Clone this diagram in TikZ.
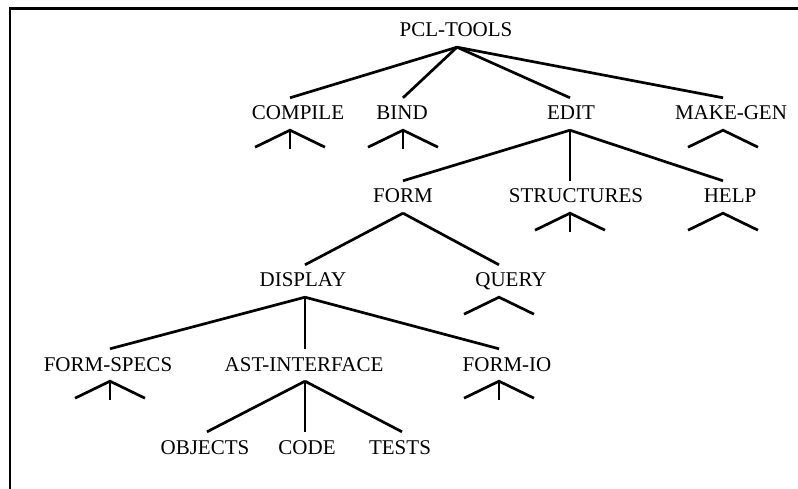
\documentclass[tikz,border=0pt]{standalone}
\usepackage{fontspec}
\setmainfont{Liberation Serif}
% collapsed subtree: a wedge below the node, optionally with a short stem
\newcommand\wedgebelow[2]{%
  \draw[edge] ([xshift=#2]#1.south) ++(-35,17) -- ([xshift=#2]#1.south) -- ++(35,17);}
\newcommand\wedgestem[2]{%
  \wedgebelow{#1}{#2}%
  \draw[edge] ([xshift=#2]#1.south) -- ++(0,19);}
\begin{document}
\begin{tikzpicture}[x=1pt,y=-1pt,
  lbl/.style={anchor=base, font=\fontsize{21}{25}\selectfont,
    text height=14pt, text depth=2pt, inner xsep=0pt, inner ysep=8pt},
  edge/.style={line width=2.7pt, line join=miter},
  frame/.style={line width=2.7pt}]
\useasboundingbox (0,0) rectangle (798,489);

% open frame: left and top rules
\draw[frame] (10,489) -- (10,8.5) -- (798,8.5);

% labels
\node[lbl] (pcl)     at (456,37)  {PCL-TOOLS};
\node[lbl] (compile) at (298,120) {COMPILE};
\node[lbl] (bind)    at (402,120) {BIND};
\node[lbl] (edit)    at (571,120) {EDIT};
\node[lbl] (makegen) at (731,120) {MAKE-GEN};
\node[lbl] (form)    at (403,203) {FORM};
\node[lbl] (struct)  at (576,203) {STRUCTURES};
\node[lbl] (help)    at (730,203) {HELP};
\node[lbl] (display) at (303,287) {DISPLAY};
\node[lbl] (query)   at (511,287) {QUERY};
\node[lbl] (fspecs)  at (108,371) {FORM-SPECS};
\node[lbl] (ast)     at (304,371) {AST-INTERFACE};
\node[lbl] (fio)     at (507,371) {FORM-IO};
\node[lbl] (objects) at (205,454) {OBJECTS};
\node[lbl] (code)    at (307,454) {CODE};
\node[lbl] (tests)   at (400,454) {TESTS};

% tree edges
\draw[edge] ([xshift=1pt]pcl.south) -- ([xshift=-8pt]compile.north);
\draw[edge] ([xshift=1pt]pcl.south) -- ([xshift=1pt]bind.north);
\draw[edge] ([xshift=1pt]pcl.south) -- ([xshift=-1pt]edit.north);
\draw[edge] ([xshift=1pt]pcl.south) -- ([xshift=-8pt]makegen.north);

\draw[edge] ([xshift=-1pt]edit.south) -- (form.north);
\draw[edge] ([xshift=-1pt]edit.south) -- ([xshift=-6pt]struct.north);
\draw[edge] ([xshift=-1pt]edit.south) -- ([xshift=-7pt]help.north);

\draw[edge] (form.south) -- ([xshift=2pt]display.north);
\draw[edge] (form.south) -- ([xshift=-12pt]query.north);

\draw[edge] ([xshift=2pt]display.south) -- ([xshift=2pt]fspecs.north);
\draw[edge] ([xshift=2pt]display.south) -- ([xshift=1pt]ast.north);
\draw[edge] ([xshift=2pt]display.south) -- ([xshift=-8pt]fio.north);

\draw[edge] ([xshift=1pt]ast.south) -- ([xshift=2pt]objects.north);
\draw[edge] ([xshift=1pt]ast.south) -- ([xshift=-2pt]code.north);
\draw[edge] ([xshift=1pt]ast.south) -- ([xshift=2pt]tests.north);

% collapsed subtrees
\wedgestem{compile}{-8pt}
\wedgestem{bind}{1pt}
\wedgebelow{makegen}{-8pt}
\wedgestem{struct}{-6pt}
\wedgebelow{help}{-7pt}
\wedgebelow{query}{-12pt}
\wedgestem{fspecs}{2pt}
\wedgestem{fio}{-8pt}
\end{tikzpicture}
\end{document}
